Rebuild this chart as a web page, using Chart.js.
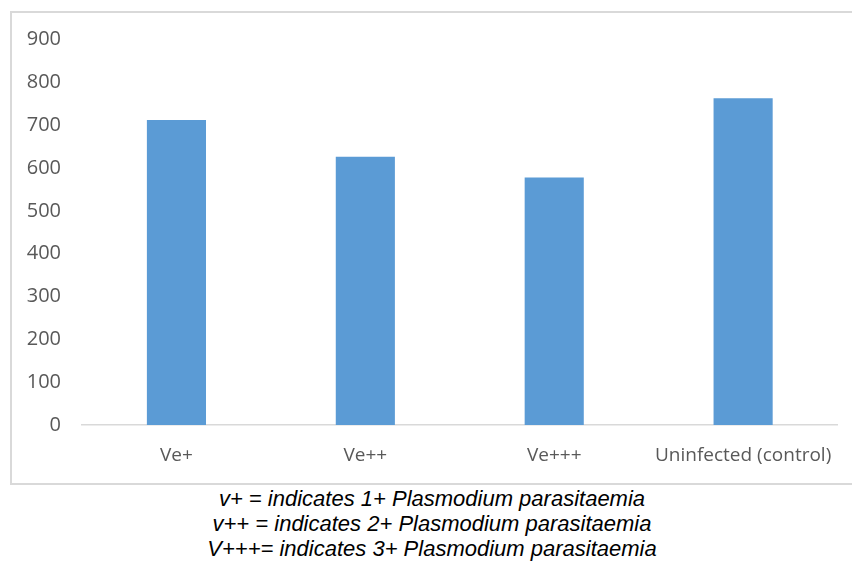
<!DOCTYPE html>
<html>
<head>
<meta charset="utf-8">
<script src="https://cdn.jsdelivr.net/npm/chart.js@4"></script>
<style>
  html, body { margin: 0; padding: 0; background: #ffffff; }
  body { width: 852px; height: 561px; position: relative; overflow: hidden; }
  #frame {
    position: absolute; left: 10px; top: 11px; width: 850px; height: 474px;
    border: 2px solid #d9d9d9; box-sizing: border-box;
  }
  #wrap { position: absolute; left: 0; top: 0; width: 852px; height: 485px; }
  #note {
    position: absolute; left: 6px; top: 486px; width: 852px;
    text-align: center; font-family: "Liberation Sans", Arial, sans-serif;
    font-style: italic; font-size: 22px; line-height: 25px; color: #000;
  }
</style>
</head>
<body>
<div id="frame"></div>
<div id="wrap"><canvas id="c" width="852" height="485"></canvas></div>
<div id="note">
  <div>v+ = indicates 1+ Plasmodium parasitaemia</div>
  <div>v++ = indicates 2+ Plasmodium parasitaemia</div>
  <div>V+++= indicates 3+ Plasmodium parasitaemia</div>
</div>
<script>
const categories = ["Ve+", "Ve++", "Ve+++", "Uninfected (control)"];
const values = [712, 626, 578, 763];
const yMin = 0;
const yMax = 900;
const yStep = 100;

const xFont = { family: "'Open Sans', sans-serif", size: 19 };
const yFont = { family: "'Open Sans', sans-serif", size: 20 };

new Chart(document.getElementById("c"), {
  type: "bar",
  data: {
    labels: categories,
    datasets: [{
      data: values,
      backgroundColor: "#5B9BD5",
      borderWidth: 0,
      categoryPercentage: 1,
      barPercentage: 0.313
    }]
  },
  options: {
    responsive: false,
    animation: false,
    events: [],
    layout: { padding: { left: 0, right: 14, top: 39.5, bottom: 0 } },
    plugins: { legend: { display: false }, tooltip: { enabled: false } },
    scales: {
      x: {
        grid: { display: false, drawTicks: false },
        border: { display: true, color: "#d9d9d9", width: 1.5 },
        ticks: { color: "#595959", font: xFont, padding: 19, maxRotation: 0, autoSkip: false },
        afterFit: (s) => { s.height = 60; }
      },
      y: {
        min: yMin,
        max: yMax,
        grid: { display: false, drawTicks: false },
        border: { display: false },
        ticks: { stepSize: yStep, color: "#595959", font: yFont, padding: 21 },
        afterFit: (s) => { s.width = 82; }
      }
    }
  }
});
</script>
</body>
</html>
